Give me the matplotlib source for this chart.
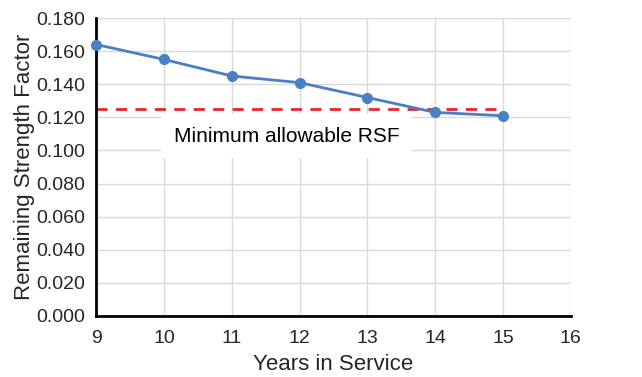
import matplotlib.pyplot as plt

# values
years = [9, 10, 11, 12, 13, 14, 15]
rsf = [0.164, 0.155, 0.145, 0.141, 0.132, 0.123, 0.121]
min_rsf = 0.125
y_ticks = [0.0, 0.02, 0.04, 0.06, 0.08, 0.10, 0.12, 0.14, 0.16, 0.18]
x_ticks = [9, 10, 11, 12, 13, 14, 15, 16]

plt.rcParams['font.family'] = ['Liberation Sans', 'DejaVu Sans']

fig = plt.figure(figsize=(6.42, 3.77), dpi=100)
ax = fig.add_axes([0.150, 0.162, 0.739, 0.790])

ax.plot(years, rsf, color='#4a7fc4', linewidth=2, marker='o', markersize=7,
        zorder=3, clip_on=False)
ax.plot([years[0], years[-1]], [min_rsf, min_rsf], color='#e8262a', linewidth=2,
        linestyle=(0, (4, 3)), zorder=2)

ax.text(11.81, 0.1085, 'Minimum allowable RSF', ha='center', va='center', fontsize=15,
        bbox=dict(facecolor='white', edgecolor='none', boxstyle='square,pad=0.6'),
        zorder=4)

ax.set_xlim(9, 16)
ax.set_ylim(0, 0.18)
ax.set_xticks(x_ticks)
ax.set_yticks(y_ticks)
ax.set_yticklabels([f'{v:.3f}' for v in y_ticks])
ax.tick_params(labelsize=14, length=0, colors='#262626')
ax.tick_params(axis='x', pad=10)
ax.tick_params(axis='y', pad=8)
ax.grid(color='#d9d9d9', linewidth=1)
ax.set_axisbelow(True)
for s in ['top', 'right']:
    ax.spines[s].set_visible(False)
for s in ['left', 'bottom']:
    ax.spines[s].set_linewidth(2)
    ax.spines[s].set_color('black')

ax.set_xlabel('Years in Service', fontsize=16, color='#262626', labelpad=5)
ax.set_ylabel('Remaining Strength Factor', fontsize=16, color='#262626', labelpad=1)

fig.savefig('out.png', dpi=100)
